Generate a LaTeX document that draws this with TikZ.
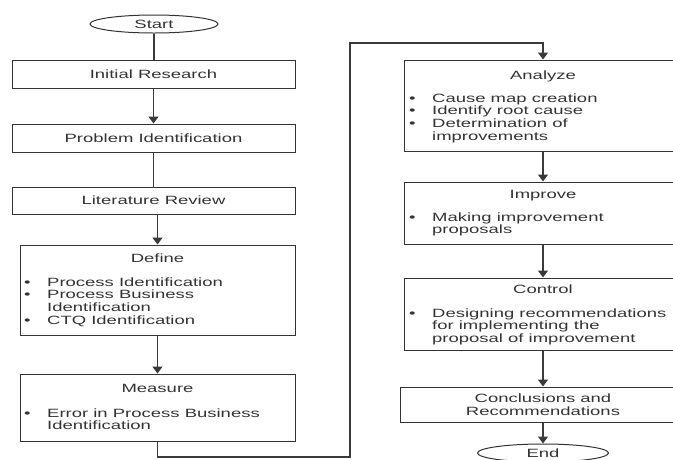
\documentclass[tikz,border=0pt]{standalone}
\usepackage{fontspec}
\setmainfont[FakeStretch=1.54]{Liberation Sans}
\usetikzlibrary{shapes.geometric,arrows.meta}
\definecolor{ink}{HTML}{333333}
\definecolor{edge}{HTML}{3a3a3a}
\newcommand{\bul}{\llap{•\hskip16.5pt}}
\newcommand{\fst}{\rule{0pt}{10pt}}
\begin{document}
\begin{tikzpicture}[x=1pt,y=-1pt,
 every node/.style={font=\fontsize{12}{12.7}\selectfont, text=ink},
 box/.style={draw=ink, line width=1pt, rectangle, inner sep=0pt},
 oval/.style={draw=ink, line width=1pt, ellipse, inner sep=0pt, minimum height=18pt},
 conn/.style={draw=edge, line width=1.8pt},
 arr/.style={conn, -{Triangle[length=7pt,width=10pt]}},
 list/.style={anchor=north west, align=left, inner sep=0pt},
 ttl/.style={anchor=base, inner sep=0pt}]
\useasboundingbox (0,0) rectangle (673,459);
\clip (0,0) rectangle (673,459);
% left column
\node[oval, minimum width=128pt] (start) at (154,24) {Start};
\node[box, minimum width=283pt, minimum height=28pt] (init) at (153.5,74) {Initial Research};
\node[box, minimum width=283pt, minimum height=28pt] (prob) at (153.5,138) {Problem Identification};
\node[box, minimum width=283pt, minimum height=27pt] (lit) at (153.5,200.5) {Literature Review};
\node[box, minimum width=275pt, minimum height=90pt] (define) at (157.5,290) {};
\node[ttl] (defT) at (157.5,262) {Define};
\node[list] (defL) at (47,276) {\bul\fst Process Identification\\\bul Process Business\\Identification\\\bul CTQ Identification};
\node[box, minimum width=275pt, minimum height=67pt] (measure) at (157.5,407.5) {};
\node[ttl] (meaT) at (157.5,392) {Measure};
\node[list] (meaL) at (47,407) {\bul\fst Error in Process Business\\Identification};
% right column
\node[box, minimum width=278pt, minimum height=91pt] (analyze) at (543,105.5) {};
\node[ttl] (anaT) at (543,79) {Analyze};
\node[list] (anaL) at (432,92) {\bul\fst Cause map creation\\\bul Identify root cause\\\bul Determination of\\improvements};
\node[box, minimum width=278pt, minimum height=62pt] (improve) at (543,213) {};
\node[ttl] (impT) at (543,198) {Improve};
\node[list] (impL) at (432,211) {\bul\fst Making improvement\\proposals};
\node[box, minimum width=278pt, minimum height=72pt] (control) at (543,314) {};
\node[ttl] (conT) at (543,293) {Control};
\node[list] (conL) at (432,307) {\bul\fst Designing recommendations\\for implementing the\\proposal of improvement};
\node[box, minimum width=286pt, minimum height=35pt, align=center] (concl) at (543,404.5) {Conclusions and\\Recommendations};
\node[oval, minimum width=131pt] (finish) at (543,453) {End};
% connectors
\draw[conn] (start.south) -- (start.south |- init.north);
\draw[arr] (init.south) -- (prob.north);
\draw[conn] (prob.south) -- (lit.north);
\draw[arr] (define.north |- lit.south) -- (define.north);
\draw[arr] (define.south) -- (measure.north);
\coordinate (c1) at (350,457);
\coordinate (c2) at (350,43);
\draw[arr] (measure.south) |- (c1) -- (c2) -| (analyze.north);
\draw[arr] (analyze.south) -- (improve.north);
\draw[arr] (improve.south) -- (control.north);
\draw[arr] (control.south) -- (concl.north);
\draw[arr] (concl.south) -- (finish.north);
\end{tikzpicture}
\end{document}
